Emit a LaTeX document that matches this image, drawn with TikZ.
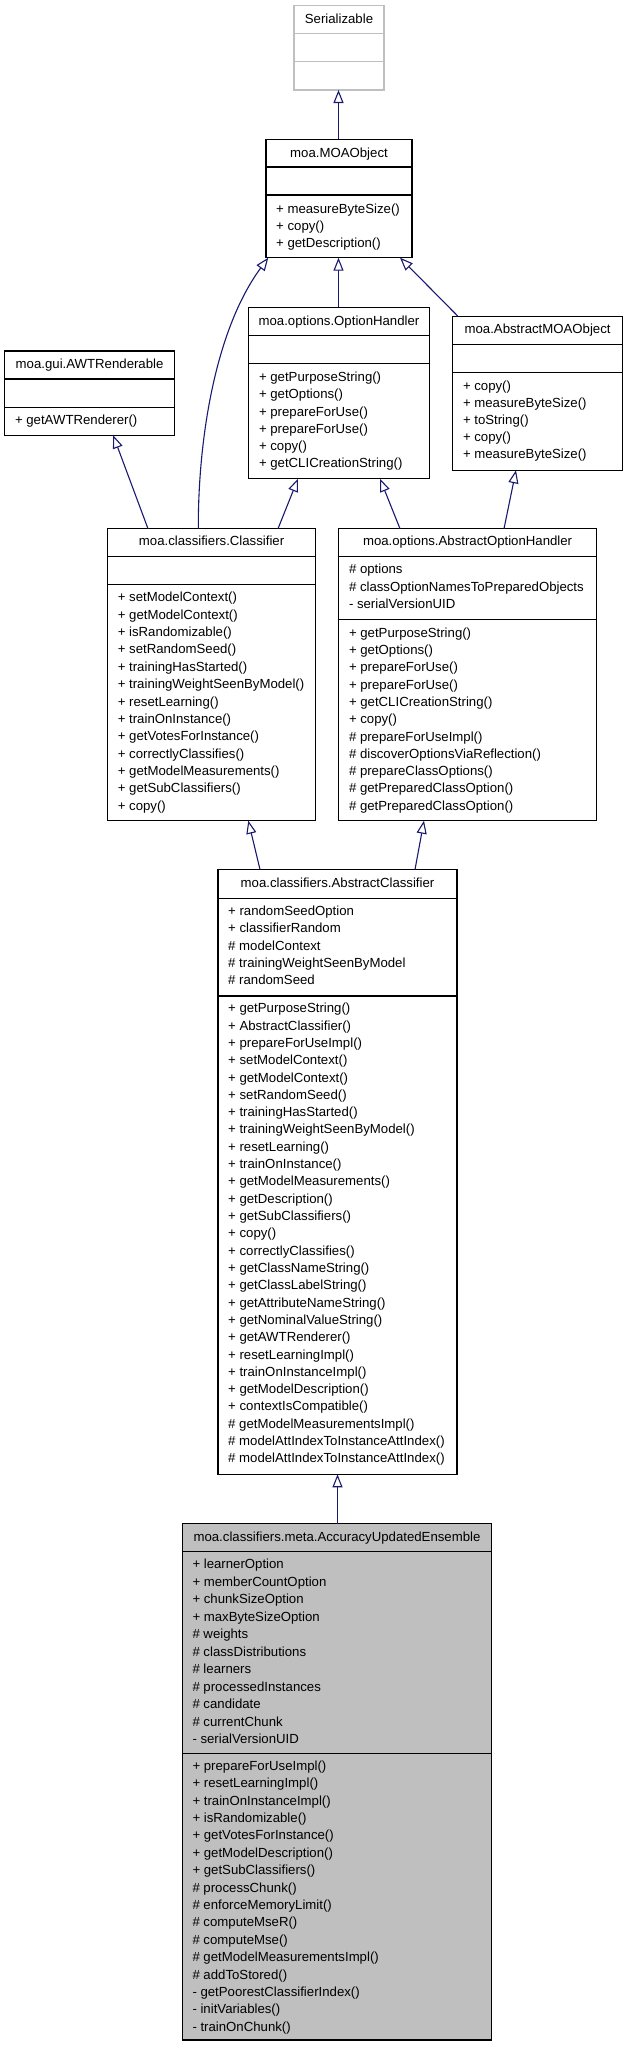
\documentclass[tikz,border=0pt]{standalone}
\usepackage{fontspec}
\setmainfont{Liberation Sans}
\usetikzlibrary{arrows.meta,calc}
\definecolor{edgeblue}{HTML}{191970}
\definecolor{boxgray}{HTML}{BFBFBF}
\definecolor{lightborder}{HTML}{BFBFBF}
\tikzset{
  clsbox/.style={draw=black, line width=1.3pt, inner sep=0pt, outer sep=0pt},
  sepline/.style={draw=black, line width=1.3pt},
  rowtext/.style={anchor=base west, inner sep=0pt, font=\fontsize{13.2}{15}\selectfont},
  titletext/.style={anchor=base, inner sep=0pt, font=\fontsize{13.2}{15}\selectfont},
  inh/.style={draw=edgeblue, line width=1.1pt, -{Triangle[open, length=13pt, width=10pt, fill=white]}}
}
\newcommand{\rowlist}[4]{%
  \foreach \txt [count=\i from 0] in {#4} {\node[rowtext] at (#1, #2+4.5+\i*#3) {\txt};}%
}
\begin{document}
\begin{tikzpicture}[x=1pt,y=-1pt]
\useasboundingbox (0,0) rectangle (624,2048);
\fill[white] (0,0) rectangle (624,2048);

% Serializable
\node[clsbox, draw=lightborder, minimum width=90pt, minimum height=84.3pt] (ser) at (339,47.85) {};
\draw[sepline, draw=lightborder] (ser.west |- 0,33.3) -- (ser.east |- 0,33.3);
\draw[sepline, draw=lightborder] (ser.west |- 0,61.7) -- (ser.east |- 0,61.7);
\node[titletext] (sert) at (339,18.7+4.5) {Serializable};

% MOAObject
\node[clsbox, minimum width=146pt, minimum height=118.4pt] (moa) at (339,198.5) {};
\draw[sepline] (moa.west |- 0,167) -- (moa.east |- 0,167);
\draw[sepline] (moa.west |- 0,195) -- (moa.east |- 0,195);
\node[titletext] (moat) at (339,152.7+4.5) {moa.MOAObject};
\rowlist{276}{209}{16.85}{{+ measureByteSize()},{+ copy()},{+ getDescription()}}

% OptionHandler
\node[clsbox, minimum width=180.4pt, minimum height=171.4pt] (oh) at (339,393) {};
\draw[sepline] (oh.west |- 0,335.7) -- (oh.east |- 0,335.7);
\draw[sepline] (oh.west |- 0,363.7) -- (oh.east |- 0,363.7);
\node[titletext] (oht) at (339,320.7+4.5) {moa.options.OptionHandler};
\rowlist{258.8}{377}{17.27}{{+ getPurposeString()},{+ getOptions()},{+ prepareForUse()},{+ prepareForUse()},{+ copy()},{+ getCLICreationString()}}

% AbstractMOAObject
\node[clsbox, minimum width=169.6pt, minimum height=154pt] (amo) at (537.6,393.3) {};
\draw[sepline] (amo.west |- 0,344.3) -- (amo.east |- 0,344.3);
\draw[sepline] (amo.west |- 0,372.7) -- (amo.east |- 0,372.7);
\node[titletext] (amot) at (537.6,329.3+4.5) {moa.AbstractMOAObject};
\rowlist{462.8}{386}{17.1}{{+ copy()},{+ measureByteSize()},{+ toString()},{+ copy()},{+ measureByteSize()}}

% AWTRenderable
\node[clsbox, minimum width=169.6pt, minimum height=84.3pt] (awt) at (89.6,393.15) {};
\draw[sepline] (awt.west |- 0,379) -- (awt.east |- 0,379);
\draw[sepline] (awt.west |- 0,407.3) -- (awt.east |- 0,407.3);
\node[titletext] (awtt) at (89.6,364.3+4.5) {moa.gui.AWTRenderable};
\rowlist{14.8}{420}{17}{{+ getAWTRenderer()}}

% Classifier
\node[clsbox, minimum width=208pt, minimum height=292pt] (cls) at (211.6,674.7) {};
\draw[sepline] (cls.west |- 0,556.7) -- (cls.east |- 0,556.7);
\draw[sepline] (cls.west |- 0,584.7) -- (cls.east |- 0,584.7);
\node[titletext] (clst) at (211.6,541.3+4.5) {moa.classifiers.Classifier};
\rowlist{117.6}{597.3}{17.37}{{+ setModelContext()},{+ getModelContext()},{+ isRandomizable()},{+ setRandomSeed()},{+ trainingHasStarted()},{+ trainingWeightSeenByModel()},{+ resetLearning()},{+ trainOnInstance()},{+ getVotesForInstance()},{+ correctlyClassifies()},{+ getModelMeasurements()},{+ getSubClassifiers()},{+ copy()}}

% AbstractOptionHandler
\node[clsbox, minimum width=257.6pt, minimum height=292pt] (aoh) at (467.6,674.7) {};
\draw[sepline] (aoh.west |- 0,556.7) -- (aoh.east |- 0,556.7);
\draw[sepline] (aoh.west |- 0,619.3) -- (aoh.east |- 0,619.3);
\node[titletext] (aoht) at (467.6,541.3+4.5) {moa.options.AbstractOptionHandler};
\rowlist{348.8}{569.3}{17.35}{{\# options},{\# classOptionNamesToPreparedObjects},{- serialVersionUID}}
\rowlist{348.8}{632.7}{17.3}{{+ getPurposeString()},{+ getOptions()},{+ prepareForUse()},{+ prepareForUse()},{+ getCLICreationString()},{+ copy()},{\# prepareForUseImpl()},{\# discoverOptionsViaReflection()},{\# prepareClassOptions()},{\# getPreparedClassOption()},{\# getPreparedClassOption()}}

% AbstractClassifier
\node[clsbox, minimum width=239pt, minimum height=604.8pt] (ac) at (337.5,1171.9) {};
\draw[sepline] (ac.west |- 0,898.3) -- (ac.east |- 0,898.3);
\draw[sepline] (ac.west |- 0,996) -- (ac.east |- 0,996);
\node[titletext] (act) at (337.5,882.7+4.5) {moa.classifiers.AbstractClassifier};
\rowlist{228}{910.7}{17.4}{{+ randomSeedOption},{+ classifierRandom},{\# modelContext},{\# trainingWeightSeenByModel},{\# randomSeed}}
\rowlist{228}{1008.3}{17.31}{{+ getPurposeString()},{+ AbstractClassifier()},{+ prepareForUseImpl()},{+ setModelContext()},{+ getModelContext()},{+ setRandomSeed()},{+ trainingHasStarted()},{+ trainingWeightSeenByModel()},{+ resetLearning()},{+ trainOnInstance()},{+ getModelMeasurements()},{+ getDescription()},{+ getSubClassifiers()},{+ copy()},{+ correctlyClassifies()},{+ getClassNameString()},{+ getClassLabelString()},{+ getAttributeNameString()},{+ getNominalValueString()},{+ getAWTRenderer()},{+ resetLearningImpl()},{+ trainOnInstanceImpl()},{+ getModelDescription()},{+ contextIsCompatible()},{\# getModelMeasurementsImpl()},{\# modelAttIndexToInstanceAttIndex()},{\# modelAttIndexToInstanceAttIndex()}}

% AccuracyUpdatedEnsemble
\node[clsbox, fill=boxgray, minimum width=309.4pt, minimum height=516.5pt] (aue) at (337,1781.75) {};
\draw[sepline] (aue.west |- 0,1551.7) -- (aue.east |- 0,1551.7);
\draw[sepline] (aue.west |- 0,1753.3) -- (aue.east |- 0,1753.3);
\node[titletext] (auet) at (337,1536.7+4.5) {moa.classifiers.meta.AccuracyUpdatedEnsemble};
\rowlist{192.3}{1564.3}{17.47}{{+ learnerOption},{+ memberCountOption},{+ chunkSizeOption},{+ maxByteSizeOption},{\# weights},{\# classDistributions},{\# learners},{\# processedInstances},{\# candidate},{\# currentChunk},{- serialVersionUID}}
\rowlist{192.3}{1765.7}{17.4}{{+ prepareForUseImpl()},{+ resetLearningImpl()},{+ trainOnInstanceImpl()},{+ isRandomizable()},{+ getVotesForInstance()},{+ getModelDescription()},{+ getSubClassifiers()},{\# processChunk()},{\# enforceMemoryLimit()},{\# computeMseR()},{\# computeMse()},{\# getModelMeasurementsImpl()},{\# addToStored()},{- getPoorestClassifierIndex()},{- initVariables()},{- trainOnChunk()}}

% Inheritance connectors
\draw[inh] (moa.north -| 338.5,0) -- (ser.south -| 338.5,0);
\draw[inh] (oh.north -| 338.5,0) -- (moa.south -| 338.5,0);
\draw[inh] (cls.north -| 198.3,0) .. controls (198,440) and (215,330) .. (moa.south -| 268.3,0);
\draw[inh] (amo.north -| 458,0) -- (moa.south -| 400,0);
\draw[inh] (cls.north -| 148,0) -- (awt.south -| 113.2,0);
\draw[inh] (cls.north -| 278,0) -- (oh.south -| 298,0);
\draw[inh] (aoh.north -| 400,0) -- (oh.south -| 380,0);
\draw[inh] (aoh.north -| 504,0) -- (amo.south -| 516,0);
\draw[inh] (ac.north -| 260,0) -- (cls.south -| 248.3,0);
\draw[inh] (ac.north -| 415,0) -- (aoh.south -| 424,0);
\draw[inh] (aue.north -| 337.5,0) -- (ac.south -| 337.5,0);
\end{tikzpicture}
\end{document}
